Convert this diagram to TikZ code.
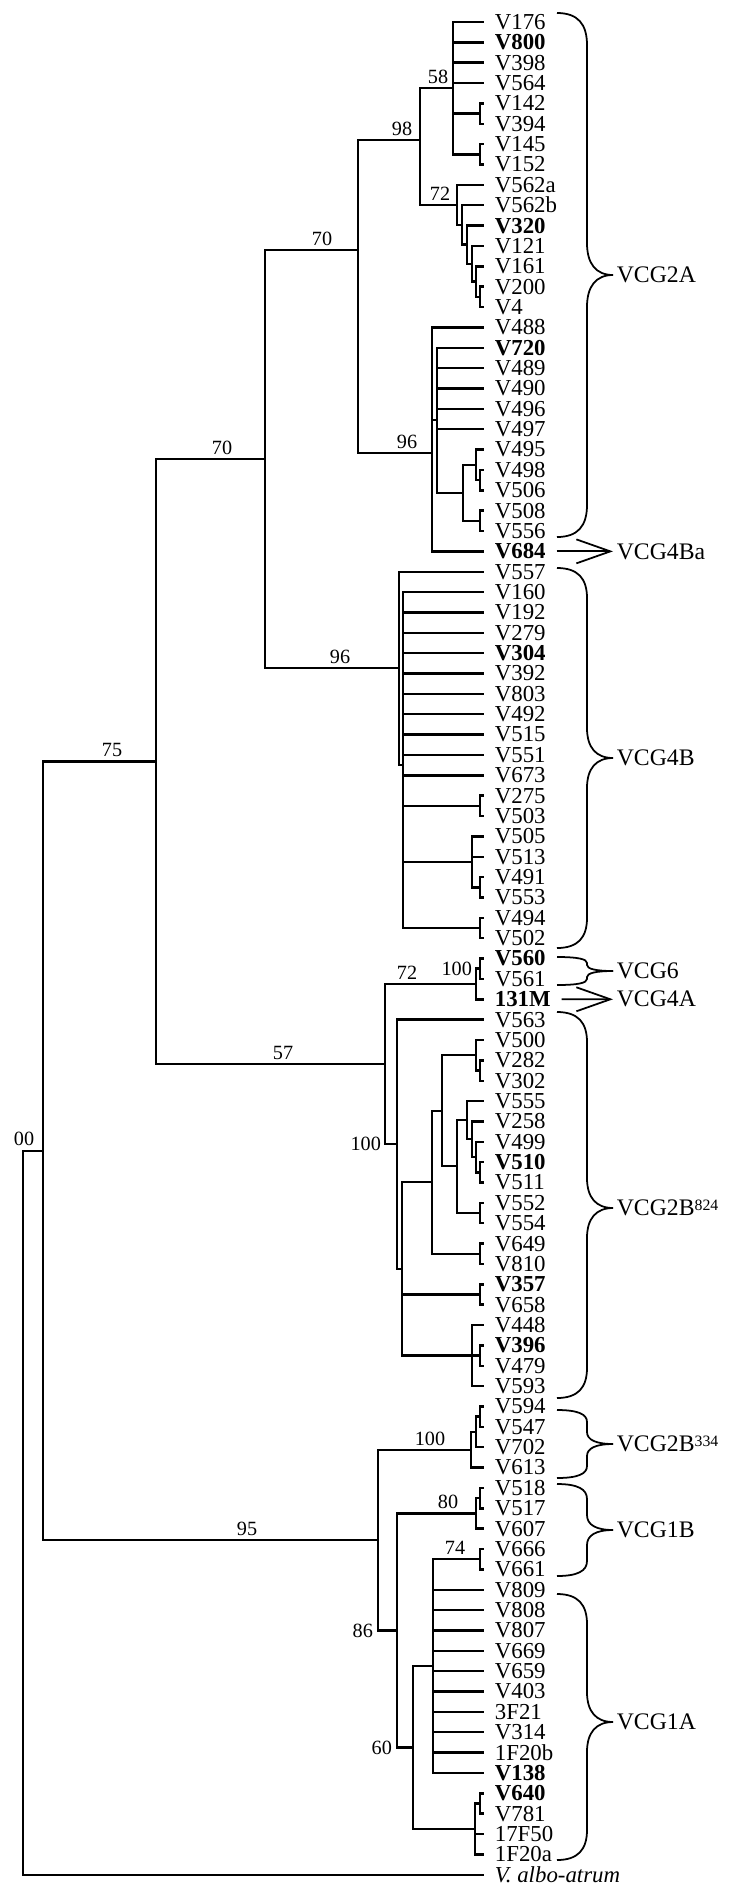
\documentclass[tikz,border=0pt]{standalone}
\usepackage{fontspec}
\setmainfont{Liberation Serif}
\usetikzlibrary{arrows.meta}

% curly bracket from the leaves to a group name
\newcommand{\vcgbrace}[5]{%
  \draw[brc] (557,#2) .. controls (578,#2) and (587,{#2+0.35*#5}) .. (587,{#2+#5})
    -- (587,{#4-#5}) .. controls (587,{#4-0.35*#5}) and (596,#4) .. (#1.west);
  \draw[brc] (557,#3) .. controls (578,#3) and (587,{#3-0.35*#5}) .. (587,{#3-#5})
    -- (587,{#4+#5}) .. controls (587,{#4+0.35*#5}) and (596,#4) .. (#1.west);
}

\begin{document}
\begin{tikzpicture}[
  x=0.02cm, y=-0.02cm,
  br/.style={line width=1.4pt},
  leaf/.style={
    anchor=west, inner xsep=6pt, inner ysep=0pt,
    font=\fontsize{13}{13}\selectfont
  },
  boot/.style={anchor=south, inner sep=1pt, font=\fontsize{11.5}{11.5}\selectfont},
  bootl/.style={anchor=east, inner sep=1pt, font=\fontsize{11.5}{11.5}\selectfont},
  grp/.style={
    anchor=west, inner xsep=2pt, inner ysep=0pt,
    font=\fontsize{13.5}{13.5}\selectfont
  },
  brc/.style={line width=1pt},
  grparrow/.style={line width=1pt, -{Straight Barb[length=0.68cm, width=0.48cm]}}
]
\useasboundingbox (0,0) rectangle (741,1884);

% leaf tips and names
\foreach \i in {1,...,92}
  \coordinate (t\i) at (484,{22+(\i-1)*20.36});
\foreach \lab [count=\i] in {V176,\textbf{V800},V398,V564,V142,V394,V145,V152,
  V562a,V562b,\textbf{V320},V121,V161,V200,V4,V488,\textbf{V720},V489,V490,V496,
  V497,V495,V498,V506,V508,V556,\textbf{V684},V557,V160,V192,V279,\textbf{V304},
  V392,V803,V492,V515,V551,V673,V275,V503,V505,V513,V491,V553,V494,V502,
  \textbf{V560},V561,\textbf{131M},V563,V500,V282,V302,V555,V258,V499,\textbf{V510},
  V511,V552,V554,V649,V810,\textbf{V357},V658,V448,\textbf{V396},V479,V593,V594,
  V547,V702,V613,V518,V517,V607,V666,V661,V809,V808,V807,V669,V659,V403,3F21,
  V314,1F20b,\textbf{V138},\textbf{V640},V781,17F50,1F20a,\textit{V. albo-atrum}}
  \node[leaf] (l\i) at (t\i) {\lab};

% internal nodes, upper part
\coordinate (p5) at (480,113.6);
\coordinate (p7) at (480,154.3);
\coordinate (n58) at (453,88);
\coordinate (nE) at (480,296.9);
\coordinate (nD) at (476,281.6);
\coordinate (nC) at (472,263.8);
\coordinate (nB) at (467,244.7);
\coordinate (nA) at (462,225);
\coordinate (n72) at (457,205);
\coordinate (n98) at (420,140);
\coordinate (q1) at (480,480.1);
\coordinate (q) at (476,465);
\coordinate (r) at (480,520.8);
\coordinate (s) at (463,493);
\coordinate (tn) at (437,420);
\coordinate (n96a) at (432,453);
\coordinate (n70u) at (358,250);
\coordinate (b39) at (480,805.9);
\coordinate (b43) at (480,887.3);
\coordinate (b41) at (472,862);
\coordinate (b45) at (480,928);
\coordinate (u) at (403,765);
\coordinate (n96b) at (399,668);
\coordinate (n70l) at (265,459);

% internal nodes, middle part
\coordinate (p47) at (480,968.7);
\coordinate (n72b) at (476,984);
\coordinate (k1) at (480,1070.5);
\coordinate (k) at (476,1055);
\coordinate (pc) at (480,1172.3);
\coordinate (c3) at (476,1157);
\coordinate (c2) at (472,1139);
\coordinate (c1) at (467,1120);
\coordinate (p59) at (480,1213);
\coordinate (h) at (457,1166);
\coordinate (w1) at (442,1111);
\coordinate (p61) at (480,1253.8);
\coordinate (w) at (432,1182);
\coordinate (p63) at (480,1294.5);
\coordinate (p66) at (480,1355.6);
\coordinate (dd) at (472,1355.6);
\coordinate (vv) at (402,1269);
\coordinate (n100) at (397,1144);
\coordinate (n57) at (385,1064);
\coordinate (n75) at (156,761.5);

% internal nodes, lower part
\coordinate (p69) at (480,1416.7);
\coordinate (g1) at (476,1432);
\coordinate (n100b) at (471,1450);
\coordinate (p73) at (480,1498.1);
\coordinate (n80) at (476,1513.4);
\coordinate (p76) at (480,1559.2);
\coordinate (n74) at (433,1666);
\coordinate (p88) at (480,1803.5);
\coordinate (ee) at (475,1829);
\coordinate (n60) at (413,1747.5);
\coordinate (n86) at (397,1630.5);
\coordinate (n95) at (378,1540);
\coordinate (ni) at (43,1150.8);
\coordinate (root) at (23,1513);

% branches
\foreach \p/\c in {p5/t5,p5/t6,p7/t7,p7/t8,n58/t1,n58/t2,n58/t3,n58/t4,n58/p5,n58/p7,
  nE/t14,nE/t15,nD/t13,nD/nE,nC/t12,nC/nD,nB/t11,nB/nC,nA/t10,nA/nB,n72/t9,n72/nA,
  n98/n58,n98/n72,q1/t23,q1/t24,q/t22,q/q1,r/t25,r/t26,s/q,s/r,tn/s,
  n96a/t16,n96a/tn,n96a/t27,n70u/n98,n70u/n96a,
  b39/t39,b39/t40,b43/t43,b43/t44,b41/t41,b41/t42,b41/b43,b45/t45,b45/t46,
  u/b39,u/b41,u/b45,n96b/t28,n96b/u,n70l/n70u,n70l/n96b,
  p47/t47,p47/t48,n72b/p47,n72b/t49,k1/t52,k1/t53,k/t51,k/k1,
  pc/t57,pc/t58,c3/t56,c3/pc,c2/t55,c2/c3,c1/t54,c1/c2,p59/t59,p59/t60,h/c1,h/p59,
  w1/k,w1/h,p61/t61,p61/t62,w/w1,w/p61,p63/t63,p63/t64,p66/t66,p66/t67,
  dd/t65,dd/p66,dd/t68,vv/w,vv/p63,vv/dd,n100/t50,n100/vv,n57/n72b,n57/n100,
  n75/n70l,n75/n57,
  p69/t69,p69/t70,g1/p69,g1/t71,n100b/g1,n100b/t72,p73/t73,p73/t74,n80/p73,n80/t75,
  p76/t76,p76/t77,n74/p76,p88/t88,p88/t89,ee/p88,ee/t90,ee/t91,n60/n74,n60/ee,
  n86/n80,n86/n60,n95/n100b,n95/n86,ni/n75,ni/n95,root/ni,root/t92}
  \draw[br] (\p) |- (\c);
\foreach \i in {17,...,21} \draw[br] (tn) |- (t\i);
\foreach \i in {29,...,38} \draw[br] (u) |- (t\i);
\foreach \i in {78,...,87} \draw[br] (n74) |- (t\i);

% bootstrap values
\node[boot] (bs58) at (438,86) {58};
\node[boot] (bs98) at (402,138) {98};
\node[boot] (bs72a) at (440,203) {72};
\node[boot] (bs70a) at (322,248) {70};
\node[boot] (bs96a) at (407,451) {96};
\node[boot] (bs70b) at (222,457) {70};
\node[boot] (bs75) at (112,759) {75};
\node[boot] (bs96b) at (340,666) {96};
\node[boot] (bs57) at (283,1062) {57};
\node[boot] (bs72b) at (407,982) {72};
\node[bootl] (bs100a) at (474,968.7) {100};
\node[bootl] (bs100b) at (383,1144) {100};
\node[boot] (bs95) at (247,1538) {95};
\node[boot] (bs100c) at (430,1448) {100};
\node[boot] (bs80) at (448,1511) {80};
\node[boot] (bs74) at (455,1557) {74};
\node[bootl] (bs86) at (375,1630.5) {86};
\node[bootl] (bs60) at (394,1747.5) {60};
\node[boot] (bs00) at (24,1148) {00};

% groups
\node[grp] (gA) at (613,275) {VCG2A};
\node[grp] (gBa) at (613,551.36) {VCG4Ba};
\node[grp] (gB) at (613,758) {VCG4B};
\node[grp] (g6) at (613,971) {VCG6};
\node[grp] (g4A) at (613,999.28) {VCG4A};
\node[grp] (g2B824) at (613,1208) {VCG2B\raisebox{0.5ex}{\fontsize{9}{9}\selectfont 824}};
\node[grp] (g2B334) at (613,1444) {VCG2B\raisebox{0.5ex}{\fontsize{9}{9}\selectfont 334}};
\node[grp] (g1B) at (613,1530) {VCG1B};
\node[grp] (g1A) at (613,1722) {VCG1A};

\vcgbrace{gA}{13}{537}{275}{32}
\vcgbrace{gB}{568}{948}{758}{30}
\vcgbrace{g6}{957}{985}{971}{6}
\vcgbrace{g2B824}{1012}{1398}{1208}{30}
\vcgbrace{g2B334}{1410}{1478}{1444}{12}
\vcgbrace{g1B}{1484}{1576}{1530}{15}
\vcgbrace{g1A}{1594}{1860}{1722}{30}
\draw[grparrow] (l27.east) -- (gBa.west);
\draw[grparrow] (l49.east) -- (g4A.west);

\end{tikzpicture}
\end{document}
